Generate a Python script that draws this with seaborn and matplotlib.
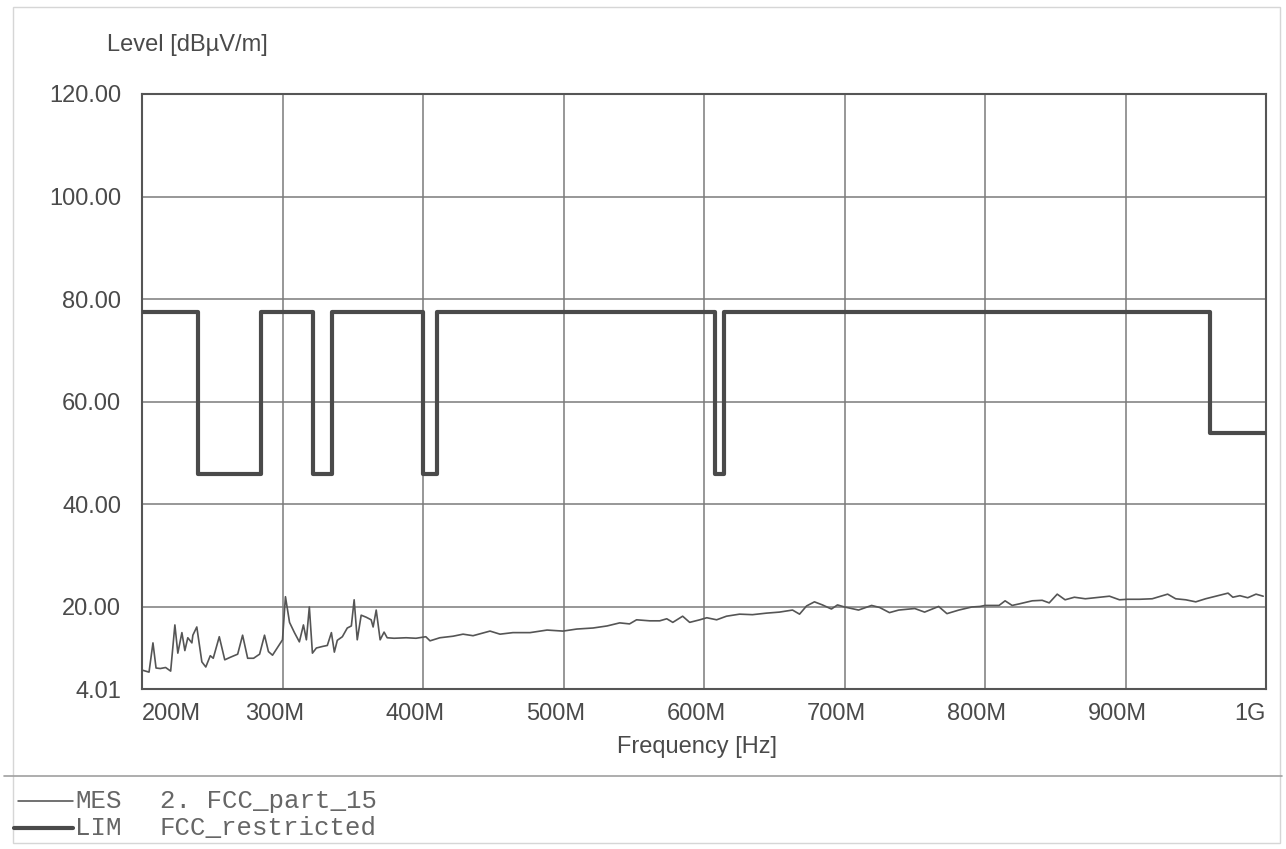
import matplotlib
matplotlib.use("Agg")
import matplotlib.pyplot as plt
import matplotlib.transforms as mtransforms
from matplotlib.lines import Line2D
from matplotlib.patches import Rectangle
import seaborn as sns
import pandas as pd

# ---- data ----
mes_freq = [200.0, 205.0, 207.8, 210.0, 213.0, 216.8, 220.4, 223.4, 225.5, 228.4,
            230.5, 232.6, 235.5, 236.2, 239.0, 242.6, 245.4, 248.6, 250.7, 255.0,
            258.9, 262.9, 268.1, 271.6, 275.2, 279.4, 283.7, 287.2, 290.0, 292.9,
            297.2, 300.0,
            302.1, 305.0, 308.5, 312.0, 314.9, 317.0, 319.1, 321.3, 324.1, 328.4,
            331.9, 334.8, 336.9, 339.0, 342.6, 346.1, 349.0, 351.0, 353.2, 356.0,
            359.6, 363.1, 364.5, 366.7, 369.5, 372.3, 374.5, 379.4, 388.0, 395.0,
            402.0,
            405.0, 412.0, 421.4, 428.5, 435.6, 447.7, 454.8, 464.0, 476.2, 488.3,
            499.6, 509.5, 521.0, 531.0, 540.0, 547.0, 552.0, 561.4, 568.5, 573.5,
            577.8, 584.8, 589.8, 597.0, 602.0, 609.0, 616.0, 625.3, 634.5, 644.5,
            653.7, 663.0, 668.0, 673.0, 678.6, 684.3, 690.7, 695.0,
            700.0, 710.0, 719.3, 725.0, 732.0, 738.6, 750.0, 757.0, 767.0, 772.9,
            781.4, 790.7, 796.4, 800.0, 810.0, 814.3, 819.3, 824.3, 833.6, 840.7,
            845.7, 851.4, 857.0, 863.6, 871.4, 881.4, 888.6, 895.7, 901.4, 910.0,
            919.0, 930.0, 935.7, 942.9, 950.0, 957.0, 964.3, 973.0, 976.4, 981.4,
            987.0, 992.9, 998.0]
mes_level = [7.7, 7.3, 13.0, 8.1, 8.0, 8.2, 7.5, 16.5, 11.0, 15.0,
             11.5, 14.0, 13.0, 14.5, 16.1, 9.3, 8.3, 10.5, 10.0, 14.2,
             9.7, 10.2, 10.8, 14.5, 10.0, 10.0, 10.8, 14.5, 11.3, 10.6,
             12.4, 13.6,
             22.0, 17.0, 15.0, 13.2, 16.5, 13.6, 20.0, 11.0, 12.0, 12.3,
             12.5, 15.0, 11.2, 13.5, 14.2, 15.9, 16.3, 21.4, 13.6, 18.4,
             18.0, 17.5, 16.1, 19.4, 13.6, 15.1, 14.0, 13.9, 14.0, 13.9,
             14.2,
             13.4, 14.0, 14.3, 14.7, 14.4, 15.3, 14.7, 15.0, 15.0, 15.5,
             15.3, 15.7, 15.9, 16.3, 16.9, 16.7, 17.5, 17.3, 17.3, 17.7,
             17.0, 18.2, 17.0, 17.5, 17.9, 17.5, 18.2, 18.6, 18.5, 18.8,
             19.0, 19.4, 18.6, 20.2, 21.0, 20.4, 19.6, 20.4,
             20.0, 19.4, 20.3, 19.9, 18.9, 19.4, 19.7, 19.0, 20.1, 18.7,
             19.4, 20.0, 20.1, 20.3, 20.3, 21.2, 20.3, 20.6, 21.2, 21.3,
             20.8, 22.5, 21.4, 21.9, 21.6, 21.9, 22.1, 21.4, 21.5, 21.5,
             21.6, 22.5, 21.6, 21.4, 21.0, 21.6, 22.1, 22.7, 21.9, 22.2,
             21.8, 22.5, 22.1]

lim_freq = [200.0, 240.0, 285.0, 322.0, 335.4, 399.9, 410.0, 608.0, 614.0, 960.0, 1000.0]
lim_level = [77.5, 46.0, 77.5, 46.0, 77.5, 46.0, 77.5, 46.0, 77.5, 54.0, 54.0]

x_ticks = [200, 300, 400, 500, 600, 700, 800, 900, 1000]
x_labels = ["200M", "300M", "400M", "500M", "600M", "700M", "800M", "900M", "1G"]
y_ticks = [4.01, 20, 40, 60, 80, 100, 120]
y_labels = ["4.01", "20.00", "40.00", "60.00", "80.00", "100.00", "120.00"]

legend_codes = ["MES", "LIM"]
legend_names = ["2. FCC_part_15", "FCC_restricted"]

# ---- style ----
sns.set_style("white")
plt.rcParams["font.family"] = ["Liberation Sans", "DejaVu Sans"]

W, H = 1286, 849
fig = plt.figure(figsize=(W / 100, H / 100), dpi=100)
ax = fig.add_axes([142 / W, 1 - 689 / H, (1266 - 142) / W, (689 - 94) / H])

mes_df = pd.DataFrame({"freq": mes_freq, "level": mes_level})
lim_df = pd.DataFrame({"freq": lim_freq, "level": lim_level})

sns.lineplot(data=lim_df, x="freq", y="level", ax=ax, estimator=None, sort=False,
             drawstyle="steps-post", color="#4a4a4a", linewidth=3.0, zorder=3)
sns.lineplot(data=mes_df, x="freq", y="level", ax=ax, estimator=None, sort=False,
             color="#555555", linewidth=1.2, zorder=3)

ax.set_xlim(200, 1000)
ax.set_ylim(4.01, 120)
ax.set_xticks(x_ticks)
ax.set_xticklabels(x_labels)
ax.set_yticks(y_ticks)
ax.set_yticklabels(y_labels)
ax.tick_params(axis="both", length=0, labelsize=17, colors="#4a4a4a")
ax.tick_params(axis="x", pad=10)
ax.tick_params(axis="y", pad=15)
ax.grid(True, color="#7a7a7a", linewidth=1.1)
ax.set_axisbelow(True)
for s in ax.spines.values():
    s.set_visible(True)
    s.set_color("#555555")
    s.set_linewidth(1.5)
ax.set_xlabel("")
ax.set_ylabel("")

# adjust x tick label alignment (edge labels kept inside)
labels = ax.get_xticklabels()
shift = mtransforms.ScaledTranslation(-8 / 100, 0, fig.dpi_scale_trans)
for i, lab in enumerate(labels):
    if i == 0:
        lab.set_horizontalalignment("left")
    elif i == len(labels) - 1:
        lab.set_horizontalalignment("right")
    else:
        lab.set_transform(lab.get_transform() + shift)

fig.text(107 / W, 1 - 45 / H, "Level [dB\u00b5V/m]", fontsize=17, color="#4a4a4a",
         ha="left", va="center")
fig.text(697 / W, 1 - 747 / H, "Frequency [Hz]", fontsize=17, color="#4a4a4a",
         ha="center", va="center")

# outer frame and legend separator
fig.add_artist(Rectangle((13 / W, 1 - 843 / H), (1280 - 13) / W, (843 - 7) / H,
                         transform=fig.transFigure, fill=False,
                         edgecolor="#d6d6d6", linewidth=1.0))
fig.add_artist(Line2D([4 / W, 1282 / W], [1 - 776 / H, 1 - 776 / H],
                      transform=fig.transFigure, color="#a0a0a0", linewidth=1.2))

# legend rows
rows_y = [801, 828]
widths = [1.1, 3.0]
starts = [18, 14]
for code, name, yy, lw, x0 in zip(legend_codes, legend_names, rows_y, widths, starts):
    fig.add_artist(Line2D([x0 / W, 73 / W], [1 - yy / H, 1 - yy / H],
                          transform=fig.transFigure, color="#4a4a4a", linewidth=lw))
    fig.text(75 / W, 1 - yy / H, code, fontsize=18.5, color="#666666",
             family=["Liberation Mono", "DejaVu Sans Mono"], ha="left", va="center")
    fig.text(160 / W, 1 - yy / H, name, fontsize=18.5, color="#666666",
             family=["Liberation Mono", "DejaVu Sans Mono"], ha="left", va="center")

fig.savefig("out.png", dpi=100, facecolor="white")
